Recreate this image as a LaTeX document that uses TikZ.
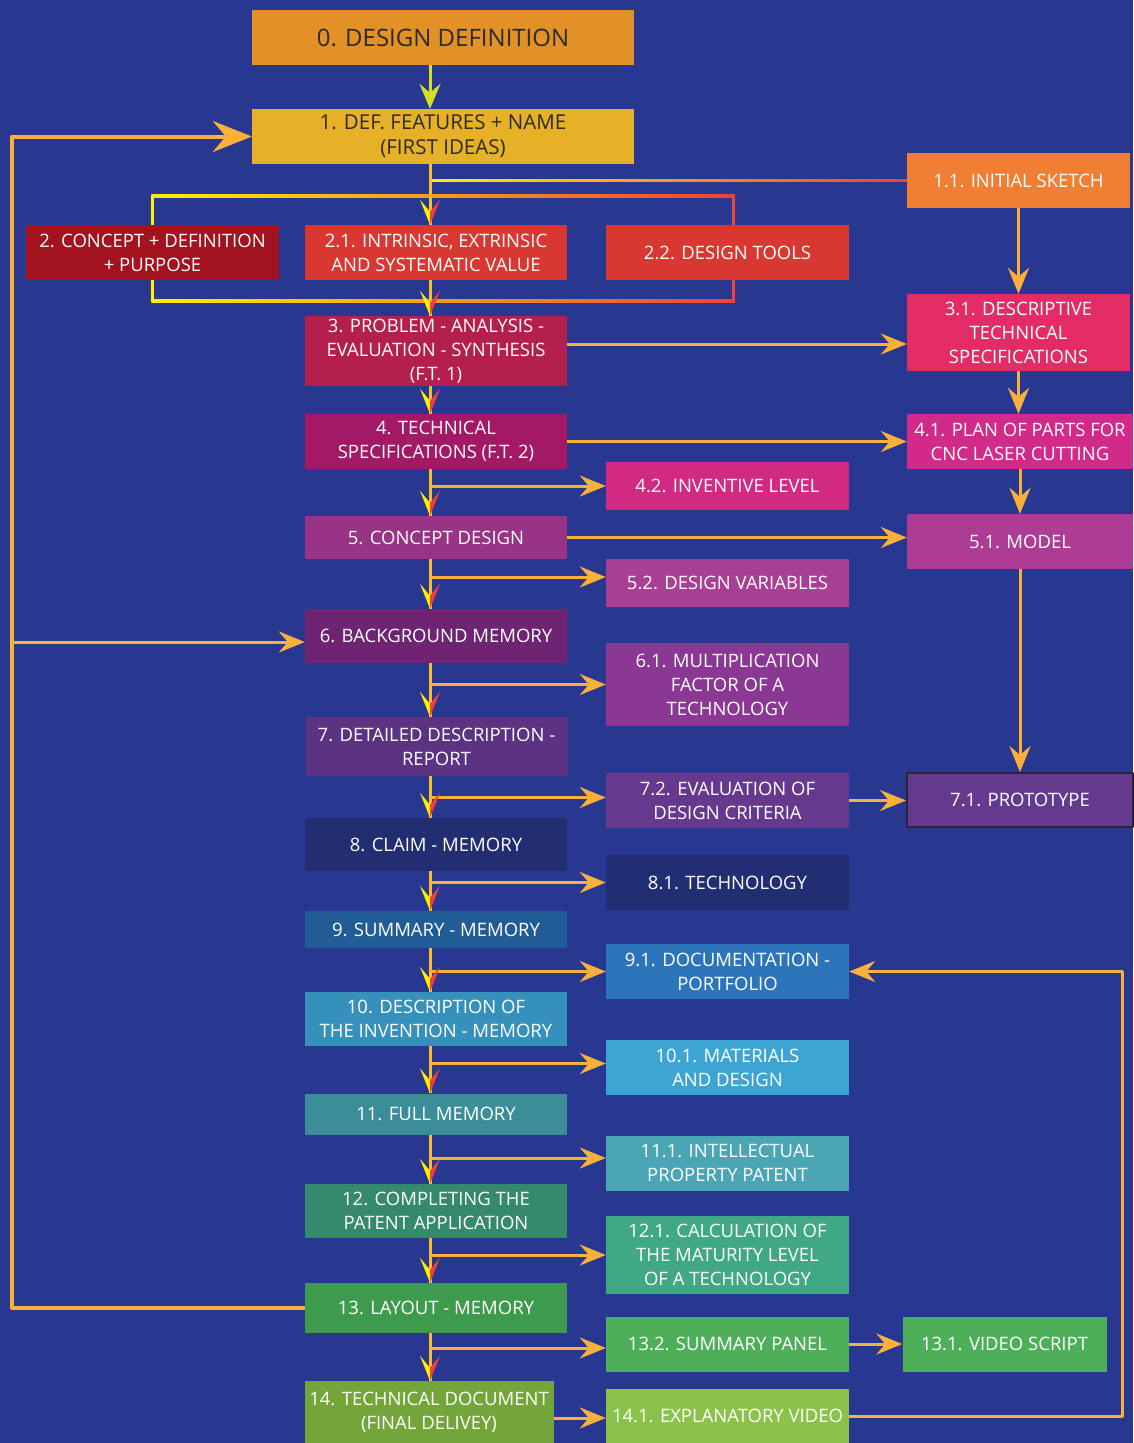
\documentclass[tikz,border=0pt]{standalone}
\usepackage{fontspec}
\setmainfont{Open Sans}
\usetikzlibrary{arrows.meta,calc}

\definecolor{bg}{RGB}{40,56,145}
\definecolor{spinecol}{RGB}{248,190,45}
\definecolor{linecol}{RGB}{251,176,59}
\definecolor{tipyel}{RGB}{255,240,0}
\definecolor{tipred}{RGB}{239,65,54}
\definecolor{lime}{RGB}{215,223,35}
\definecolor{darktext}{RGB}{45,42,38}
\definecolor{frame7}{RGB}{43,34,56}
% box colours, by step number
\definecolor{c0}{RGB}{226,145,39}
\definecolor{c1}{RGB}{231,177,39}
\definecolor{c1a}{RGB}{240,127,51}
\definecolor{c2}{RGB}{163,18,31}
\definecolor{c2a}{RGB}{217,55,50}
\definecolor{c2b}{RGB}{217,55,50}
\definecolor{c3}{RGB}{181,31,76}
\definecolor{c3a}{RGB}{227,43,100}
\definecolor{c4}{RGB}{163,25,102}
\definecolor{c4a}{RGB}{209,42,136}
\definecolor{c4b}{RGB}{210,42,131}
\definecolor{c5}{RGB}{152,51,133}
\definecolor{c5a}{RGB}{173,61,148}
\definecolor{c5b}{RGB}{169,62,149}
\definecolor{c6}{RGB}{110,36,115}
\definecolor{c6a}{RGB}{139,56,148}
\definecolor{c7}{RGB}{92,50,131}
\definecolor{c7a}{RGB}{101,58,142}
\definecolor{c7b}{RGB}{102,57,143}
\definecolor{c8}{RGB}{35,45,114}
\definecolor{c8a}{RGB}{34,46,115}
\definecolor{c9}{RGB}{33,92,150}
\definecolor{c9a}{RGB}{44,117,187}
\definecolor{c10}{RGB}{53,145,188}
\definecolor{c10a}{RGB}{60,165,211}
\definecolor{c11}{RGB}{59,141,151}
\definecolor{c11a}{RGB}{74,166,181}
\definecolor{c12}{RGB}{52,138,106}
\definecolor{c12a}{RGB}{64,168,130}
\definecolor{c13}{RGB}{62,154,77}
\definecolor{c13a}{RGB}{77,176,88}
\definecolor{c13b}{RGB}{77,176,88}
\definecolor{c14}{RGB}{115,165,58}
\definecolor{c14a}{RGB}{139,195,74}

\begin{document}
\begin{tikzpicture}[x=1pt, y=-1pt, line join=round,
	box/.style={rectangle, inner sep=2pt, align=center, text=white, font=\fontsize{18.5}{24}\selectfont},
	mainbox/.style={box, minimum width=262},
	sidebox/.style={box, minimum width=243},
	rightbox/.style={box, minimum width=226},
	spine/.style={line width=3pt, spinecol},
	branch/.style={line width=3pt, linecol, -{Stealth[length=26pt, width=21pt, inset=9pt]}},
	loopline/.style={line width=4pt, linecol},
	splittip/.pic={
		\fill[tipyel] (0,0) -- (-10,-25) -- (0,-13) -- cycle;
		\fill[tipred] (0,0) -- (10,-25) -- (0,-13) -- cycle;
	}]
	\fill[bg] (0,0) rectangle (1133,1443);
	\useasboundingbox (0,0) rectangle (1133,1443);
	\coordinate (sp) at (430,0);
	\coordinate (lx) at (12,0);
	\coordinate (rx) at (1122,0);

	% left column
	\node[box, fill=c0, text=darktext, minimum width=382, minimum height=55, font=\fontsize{24}{28}\selectfont] (n0) at (443,37.5) {0. DESIGN DEFINITION};
	\node[box, fill=c1, text=darktext, minimum width=382, minimum height=55, font=\fontsize{20.5}{25}\selectfont] (n1) at (443,136.5) {1. DEF. FEATURES + NAME\\(FIRST IDEAS)};
	\node[box, fill=c2, minimum width=253, minimum height=55] (n2) at (152.5,252.5) {2. CONCEPT + DEFINITION\\+ PURPOSE};
	\node[mainbox, fill=c2a, minimum height=55] (n2a) at (436,252.5) {2.1. INTRINSIC, EXTRINSIC\\AND SYSTEMATIC VALUE};
	\node[mainbox, fill=c3, minimum height=70] (n3) at (436,351) {3. PROBLEM - ANALYSIS -\\EVALUATION - SYNTHESIS\\(F.T. 1)};
	\node[mainbox, fill=c4, minimum height=55] (n4) at (436,441.5) {4. TECHNICAL\\SPECIFICATIONS (F.T. 2)};
	\node[mainbox, fill=c5, minimum height=43] (n5) at (436,537.5) {5. CONCEPT DESIGN};
	\node[mainbox, fill=c6, minimum height=54] (n6) at (436,636) {6. BACKGROUND MEMORY};
	\node[mainbox, fill=c7, minimum height=59] (n7) at (436.5,746.5) {7. DETAILED DESCRIPTION -\\REPORT};
	\node[mainbox, fill=c8, minimum height=53] (n8) at (436,844.5) {8. CLAIM - MEMORY};
	\node[mainbox, fill=c9, minimum height=37] (n9) at (436,929.5) {9. SUMMARY - MEMORY};
	\node[mainbox, fill=c10, minimum height=54] (n10) at (436,1019) {10. DESCRIPTION OF\\THE INVENTION - MEMORY};
	\node[mainbox, fill=c11, minimum height=41] (n11) at (436,1114) {11. FULL MEMORY};
	\node[mainbox, fill=c12, minimum height=54] (n12) at (436,1211) {12. COMPLETING THE\\PATENT APPLICATION};
	\node[mainbox, fill=c13, minimum height=50] (n13) at (436,1308) {13. LAYOUT - MEMORY};
	\node[box, fill=c14, minimum width=249, minimum height=62] (n14) at (429,1412) {14. TECHNICAL DOCUMENT\\(FINAL DELIVEY)};

	% middle column
	\node[sidebox, fill=c2b, minimum height=55] (n2b) at (727.5,252.5) {2.2. DESIGN TOOLS};
	\node[sidebox, fill=c4b, minimum height=48] (n4b) at (727.5,486) {4.2. INVENTIVE LEVEL};
	\node[sidebox, fill=c5b, minimum height=48] (n5b) at (727.5,583) {5.2. DESIGN VARIABLES};
	\node[sidebox, fill=c6a, minimum height=83] (n6a) at (727.5,684.5) {6.1. MULTIPLICATION\\FACTOR OF A\\TECHNOLOGY};
	\node[sidebox, fill=c7b, minimum height=55] (n7b) at (727.5,800.5) {7.2. EVALUATION OF\\DESIGN CRITERIA};
	\node[sidebox, fill=c8a, minimum height=55] (n8a) at (727.5,882.5) {8.1. TECHNOLOGY};
	\node[sidebox, fill=c9a, minimum height=55] (n9a) at (727.5,971.5) {9.1. DOCUMENTATION -\\PORTFOLIO};
	\node[sidebox, fill=c10a, minimum height=55] (n10a) at (727.5,1067.5) {10.1. MATERIALS\\AND DESIGN};
	\node[sidebox, fill=c11a, minimum height=55] (n11a) at (727.5,1163) {11.1. INTELLECTUAL\\PROPERTY PATENT};
	\node[sidebox, fill=c12a, minimum height=78] (n12a) at (727.5,1255) {12.1. CALCULATION OF\\THE MATURITY LEVEL\\OF A TECHNOLOGY};
	\node[sidebox, fill=c13b, minimum height=55] (n13b) at (727.5,1344) {13.2. SUMMARY PANEL};
	\node[sidebox, fill=c14a, minimum height=54] (n14a) at (727.5,1416) {14.1. EXPLANATORY VIDEO};

	% right column
	\node[box, fill=c1a, minimum width=223, minimum height=55] (n1a) at (1018.5,180.5) {1.1. INITIAL SKETCH};
	\node[box, fill=c3a, minimum width=223, minimum height=77] (n3a) at (1018.5,332.5) {3.1. DESCRIPTIVE\\TECHNICAL\\SPECIFICATIONS};
	\node[rightbox, fill=c4a, minimum height=55] (n4a) at (1020,441.5) {4.1. PLAN OF PARTS FOR\\CNC LASER CUTTING};
	\node[rightbox, fill=c5a, minimum height=55] (n5a) at (1020,541.5) {5.1. MODEL};
	\node[rightbox, fill=c7a, minimum height=54, draw=frame7, line width=2pt] (n7a) at (1020,800) {7.1. PROTOTYPE};
	\node[box, fill=c13a, minimum width=204, minimum height=55] (n13a) at (1004.5,1344) {13.1. VIDEO SCRIPT};

	% 1 -> 1.1 and the bracket round 2 and 2.2
	\shade[left color=tipyel, right color=tipred] ($(sp |- n1a.west)+(0,-1.2)$) rectangle ($(n1a.west)+(0,1.2)$);
	\draw[line width=2.5pt, tipyel] (n2.north) -- ++(0,-29) coordinate (bt1);
	\draw[line width=2.5pt, tipred] ([xshift=6]n2b.north) -- ++(0,-29) coordinate (bt2);
	\shade[left color=tipyel, right color=tipred] ($(bt1)+(-1.25,1.25)$) rectangle ($(bt2)+(1.25,-1.25)$);
	\draw[line width=2.5pt, tipyel] (n2.south) -- ++(0,21) coordinate (bb1);
	\draw[line width=2.5pt, tipred] ([xshift=6]n2b.south) -- ++(0,21) coordinate (bb2);
	\shade[left color=tipyel, right color=tipred] ($(bb1)+(-1.25,1.25)$) rectangle ($(bb2)+(1.25,-1.25)$);

	% main spine
	\draw[line width=3pt, lime, -{Stealth[length=25pt, width=21pt, inset=9pt]}] (n0.south -| sp) -- (n1.north -| sp);
	\foreach \a/\b in {n1/n2a, n2a/n3, n3/n4, n4/n5, n5/n6, n6/n7, n7/n8, n8/n9, n9/n10, n10/n11, n11/n12, n12/n13, n13/n14} {
		\draw[spine] (\a.south -| sp) -- (\b.north -| sp);
	}
	% side branches
	\foreach \b/\s in {n4b/0, n5b/6, n6a/0, n7b/3, n8a/0, n9a/0, n10a/4, n11a/5, n12a/0, n13b/-4} {
		\draw[branch] ([yshift=\s]\b.west -| sp) -- ([yshift=\s]\b.west);
	}
	\foreach \b in {n2a, n3, n4, n5, n6, n7, n8, n9, n10, n11, n12, n13, n14} {
		\pic at (\b.north -| sp) {splittip};
	}

	% right column arrows
	\foreach \a/\b in {n1a/n3a, n3a/n4a, n4a/n5a, n5a/n7a} {
		\draw[branch] (\a.south) -- (\a.south |- \b.north);
	}
	\draw[branch] ([yshift=7]n3.east) -- ([yshift=7]n3.east -| n3a.west);
	\draw[branch] (n4.east) -- (n4a.west);
	\draw[branch] (n5.east) -- (n5.east -| n5a.west);
	\draw[branch] (n7b.east) -- (n7b.east -| n7a.west);
	\draw[branch] (n13b.east) -- (n13b.east -| n13a.west);
	\draw[branch] ([yshift=-6]n14.east) -- ([yshift=-6]n14.east -| n14a.west);

	% feedback loops
	\draw[branch] (n14a.east) -- (n14a.east -| rx) -- (rx |- n9a.east) -- (n9a.east);
	\draw[loopline, -{Stealth[length=39pt, width=31pt, inset=13pt]}] (n13.west) -- (n13.west -| lx) -- (lx |- n1.west) -- (n1.west);
	\coordinate (b6) at ([yshift=-6]n6.west);
	\draw[branch] (lx |- b6) -- (b6);
\end{tikzpicture}
\end{document}
